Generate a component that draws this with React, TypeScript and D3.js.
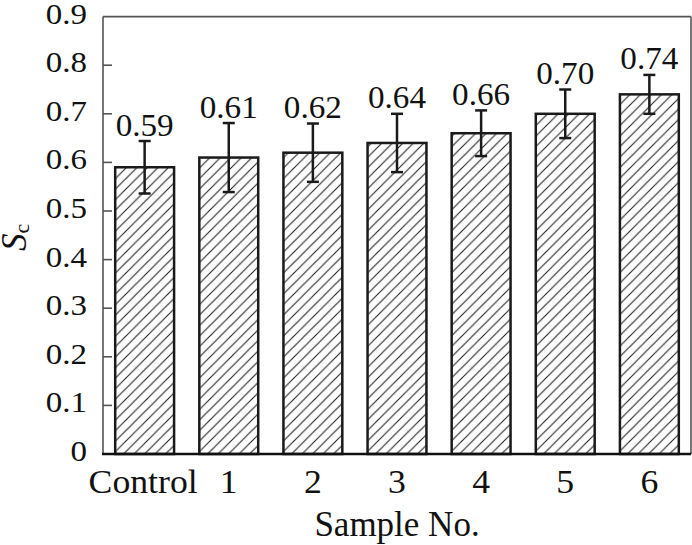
import React from "react";
import * as d3 from "d3";

const categories = ["Control", "1", "2", "3", "4", "5", "6"];
const values = [0.59, 0.61, 0.62, 0.64, 0.66, 0.70, 0.74];
const errors = [0.054, 0.071, 0.06, 0.06, 0.047, 0.05, 0.04];
const valueLabels = ["0.59", "0.61", "0.62", "0.64", "0.66", "0.70", "0.74"];
const yTicks = [0, 0.1, 0.2, 0.3, 0.4, 0.5, 0.6, 0.7, 0.8, 0.9];

const W = 692;
const H = 545;
const left = 103;
const right = 691;
const top = 16.6;
const bottom = 454;
const serif = "Liberation Serif";

function T(props: {
  x: number;
  y: number;
  size: number;
  sx?: number;
  anchor?: string;
  children: React.ReactNode;
}) {
  const { x, y, size, sx = 1, anchor = "middle", children } = props;
  return (
    <text
      transform={`translate(${x},${y}) scale(${sx},1)`}
      textAnchor={anchor}
      fontFamily={serif}
      style={{ fontFamily: serif }}
      fontSize={size}
      fill="#111"
    >
      {children}
    </text>
  );
}

export default function App() {
  const x = d3
    .scaleBand<string>()
    .domain(categories)
    .range([left, right])
    .paddingInner(0.3)
    .paddingOuter(0.145);
  const y = d3.scaleLinear().domain([0, 0.9]).range([bottom, top]);
  const bw = x.bandwidth();
  const cap = 6;

  return (
    <svg
      width={W}
      height={H}
      fontFamily={serif}
      style={{ position: "absolute", left: 0, top: 0, background: "#fff", fontFamily: serif }}
    >
      <defs>
        <pattern id="hatch" patternUnits="userSpaceOnUse" width={10.5} height={10.5}>
          <path d="M-2,2 L2,-2 M0,10.5 L10.5,0 M8.5,12.5 L12.5,8.5" stroke="#222" strokeWidth={1.1} />
        </pattern>
      </defs>
      <line x1={left} y1={top} x2={right} y2={top} stroke="#555" strokeWidth={1.6} />
      <line x1={right} y1={top} x2={right} y2={bottom} stroke="#555" strokeWidth={1.6} />
      <line x1={left} y1={top} x2={left} y2={bottom} stroke="#555" strokeWidth={1.6} />
      {yTicks.map((t, i) => (
        <g key={i}>
          {t > 0 && t < 0.9 && (
            <line x1={left} x2={left + 9} y1={y(t)} y2={y(t)} stroke="#555" strokeWidth={1.6} />
          )}
          <T x={87} y={y(t) + 7} size={30} sx={1.1} anchor="end">
            {t === 0 ? "0" : t.toFixed(1)}
          </T>
        </g>
      ))}
      {categories.map((c, i) => {
        const bx = x(c)!;
        const cx = bx + bw / 2;
        const v = values[i];
        const e = errors[i];
        return (
          <g key={c}>
            <rect
              x={bx}
              y={y(v)}
              width={bw}
              height={bottom - y(v)}
              fill="url(#hatch)"
              stroke="#1a1a1a"
              strokeWidth={2.5}
            />
            <line x1={cx} x2={cx} y1={y(v + e)} y2={y(v - e)} stroke="#1a1a1a" strokeWidth={2.5} />
            <line x1={cx - cap} x2={cx + cap} y1={y(v + e)} y2={y(v + e)} stroke="#1a1a1a" strokeWidth={2.5} />
            <line x1={cx - cap} x2={cx + cap} y1={y(v - e)} y2={y(v - e)} stroke="#1a1a1a" strokeWidth={2.5} />
            <T x={cx} y={y(v + e) - 5.5} size={31} sx={1.07}>
              {valueLabels[i]}
            </T>
            <T x={cx - (i === 0 ? 1.5 : 0)} y={493} size={34} sx={1.05}>
              {c}
            </T>
          </g>
        );
      })}
      <line x1={left - 1} x2={right} y1={bottom} y2={bottom} stroke="#111" strokeWidth={2.5} />
      <T x={397} y={536} size={35}>
        Sample No.
      </T>
      <text
        transform="translate(26,251) rotate(-90)"
        textAnchor="start"
        fontFamily={serif}
        style={{ fontFamily: serif }}
        fontSize={35}
        fill="#111"
      >
        <tspan fontStyle="italic">S</tspan>
        <tspan fontSize={22} dy={3}>c</tspan>
      </text>
    </svg>
  );
}
